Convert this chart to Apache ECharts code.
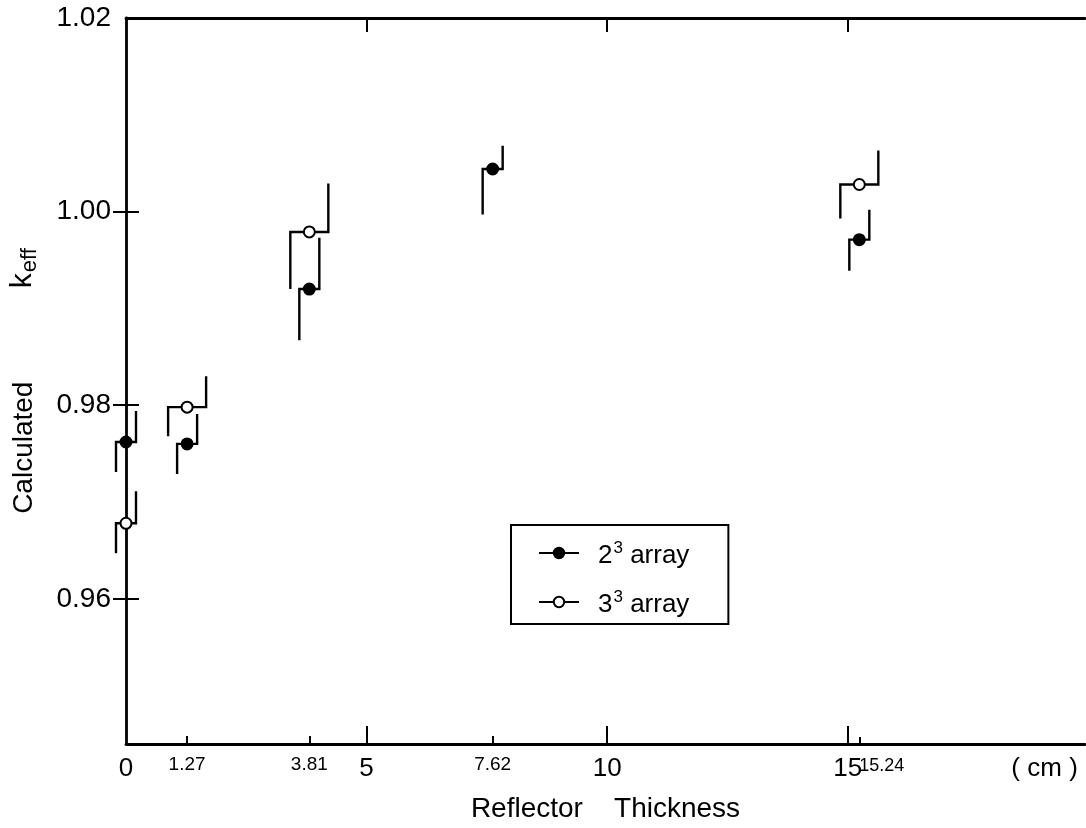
<!DOCTYPE html>
<html>
<head>
<meta charset="utf-8">
<script src="https://cdn.jsdelivr.net/npm/echarts@6/dist/echarts.min.js"></script>
<style>
html,body{margin:0;padding:0;background:#fff;}
#chart{width:1086px;height:828px;}
</style>
</head>
<body>
<div id="chart"></div>
<script>
// ---- data ----
const xMajorTicks = [0, 5, 10, 15];
const xMinorTicks = [1.27, 3.81, 7.62];
const xSpecialTick = [15.24];
const unitLabelValue = [19.09];
const yTicks = [0.96, 0.98, 1.00];
const yLabels = [0.96, 0.98, 1.00, 1.02];

// 2^3 array (filled circles)
const x2 = [0, 1.27, 3.81, 7.62, 15.24];
const k2 = [0.9762, 0.9760, 0.9920, 1.0044, 0.9971];
const k2Low = [0.9731, 0.9729, 0.9867, 0.9997, 0.9939];
const k2High = [0.9794, 0.9791, 0.9973, 1.0068, 1.0002];

// 3^3 array (open circles)
const x3 = [0, 1.27, 3.81, 15.24];
const k3 = [0.9678, 0.9798, 0.9979, 1.0028];
const k3Low = [0.9647, 0.9768, 0.9920, 0.9993];
const k3High = [0.9711, 0.9830, 1.0029, 1.0063];

const FONT = 'Liberation Sans';

function rows(xs, ys, lo, hi) {
  return xs.map((x, i) => [x, ys[i], lo[i], hi[i]]);
}

function makeRender(fill, arm, armAtZero) {
  return function (params, api) {
    const x = api.value(0);
    const p = api.coord([x, api.value(1)]);
    const pl = api.coord([x, api.value(2)]);
    const ph = api.coord([x, api.value(3)]);
    const a = x === 0 ? armAtZero : arm;
    return {
      type: 'group',
      children: [
        {
          type: 'polyline',
          shape: { points: [[p[0] - a, pl[1]], [p[0] - a, p[1]], [p[0] + a, p[1]], [p[0] + a, ph[1]]] },
          style: { stroke: '#000', lineWidth: 2.4, fill: null }
        },
        {
          type: 'circle',
          shape: { cx: p[0], cy: p[1], r: 5.5 },
          style: { fill: fill, stroke: '#000', lineWidth: 2 }
        }
      ]
    };
  };
}

const chart = echarts.init(document.getElementById('chart'), null, { renderer: 'canvas' });

const axisLine = { show: true, lineStyle: { color: '#000', width: 2.8 } };

const option = {
  backgroundColor: '#fff',
  animation: false,
  textStyle: { fontFamily: FONT, color: '#000' },
  grid: { left: 122, right: 1, top: 18, bottom: 83, containLabel: false },
  legend: {
    data: ['2^3 array', '3^3 array'],
    orient: 'vertical',
    left: 511,
    top: 525,
    padding: [15, 39, 6, 27],
    itemGap: 20,
    itemWidth: 40,
    itemHeight: 13,
    borderColor: '#000',
    borderWidth: 2,
    borderRadius: 0,
    backgroundColor: '#fff',
    selectedMode: false,
    formatter: function (name) {
      const d = name.charAt(0);
      return '{n|' + d + '}{s|3}{t| array}';
    },
    textStyle: {
      fontFamily: FONT,
      color: '#000',
      fontSize: 26,
      rich: {
        n: { fontFamily: FONT, fontSize: 26, padding: [0, 0, 0, 14], lineHeight: 32, verticalAlign: 'bottom' },
        s: { fontFamily: FONT, fontSize: 17, padding: [0, 0, 12, 1], lineHeight: 32, verticalAlign: 'bottom' },
        t: { fontFamily: FONT, fontSize: 26, lineHeight: 32, verticalAlign: 'bottom' }
      }
    }
  },
  xAxis: [
    {
      type: 'value', position: 'bottom', min: 0, max: 19.93,
      axisLine: axisLine,
      splitLine: { show: false },
      axisTick: { show: true, inside: true, length: 18, customValues: xMajorTicks.slice(1), lineStyle: { color: '#000', width: 2 } },
      axisLabel: {
        customValues: xMajorTicks.concat(unitLabelValue),
        fontFamily: FONT, fontSize: 26, color: '#000', margin: 12,
        formatter: function (v) { return v > 19 ? '( cm )' : String(v); }
      },
      name: 'Reflector    Thickness',
      nameLocation: 'middle',
      nameGap: 51,
      nameTextStyle: { fontFamily: FONT, fontSize: 28, color: '#000' }
    },
    {
      type: 'value', position: 'bottom', min: 0, max: 19.93,
      axisLine: { show: false },
      splitLine: { show: false },
      axisTick: { show: true, inside: true, length: 8, customValues: xMinorTicks, lineStyle: { color: '#000', width: 2 } },
      axisLabel: {
        customValues: xMinorTicks,
        fontFamily: FONT, fontSize: 19, color: '#000', margin: 11,
        formatter: function (v) { return v.toFixed(2); }
      }
    },
    {
      type: 'value', position: 'bottom', min: 0, max: 19.93,
      axisLine: { show: false },
      splitLine: { show: false },
      axisTick: { show: true, inside: true, length: 7, customValues: xSpecialTick, lineStyle: { color: '#000', width: 2 } },
      axisLabel: {
        customValues: xSpecialTick,
        fontFamily: FONT, fontSize: 18, color: '#000', margin: 13, align: 'left',
        formatter: function (v) { return v.toFixed(2); }
      }
    },
    {
      type: 'value', position: 'top', min: 0, max: 19.93,
      axisLine: axisLine,
      splitLine: { show: false },
      axisTick: { show: true, inside: true, length: 14, customValues: xMajorTicks.slice(1), lineStyle: { color: '#000', width: 2 } },
      axisLabel: { show: false }
    }
  ],
  yAxis: [
    {
      type: 'value', position: 'left', min: 0.945, max: 1.02,
      axisLine: axisLine,
      splitLine: { show: false },
      axisTick: { show: true, inside: true, length: 13, customValues: yTicks, lineStyle: { color: '#000', width: 2 } },
      axisLabel: {
        customValues: yLabels,
        fontFamily: FONT, fontSize: 28, color: '#000', margin: 15,
        formatter: function (v) { return v.toFixed(2); }
      },
      name: '{c|Calculated}{sp|            }{k|k}{e|eff}',
      nameLocation: 'middle',
      nameRotate: 90,
      nameGap: 88,
      nameTextStyle: {
        fontFamily: FONT, fontSize: 28, color: '#000',
        rich: {
          c: { fontFamily: FONT, fontSize: 28, lineHeight: 34, verticalAlign: 'bottom' },
          sp: { fontFamily: FONT, fontSize: 28, lineHeight: 34, verticalAlign: 'bottom' },
          k: { fontFamily: FONT, fontSize: 30, lineHeight: 34, verticalAlign: 'bottom' },
          e: { fontFamily: FONT, fontSize: 22, lineHeight: 34, verticalAlign: 'bottom', padding: [0, 0, -3, 1] }
        }
      }
    },
    {
      type: 'value', position: 'right', min: 0.945, max: 1.02,
      axisLine: { show: false },
      splitLine: { show: false },
      axisTick: { show: true, inside: true, length: 13, customValues: yTicks, lineStyle: { color: '#000', width: 2 } },
      axisLabel: { show: false }
    }
  ],
  series: [
    {
      name: '2^3 bars', type: 'custom', xAxisIndex: 0, yAxisIndex: 0,
      renderItem: makeRender('#000', 10, 10),
      data: rows(x2, k2, k2Low, k2High),
      encode: { x: 0, y: [1, 2, 3] },
      clip: false, z: 5
    },
    {
      name: '3^3 bars', type: 'custom', xAxisIndex: 0, yAxisIndex: 0,
      renderItem: makeRender('#fff', 19, 10),
      data: rows(x3, k3, k3Low, k3High),
      encode: { x: 0, y: [1, 2, 3] },
      clip: false, z: 5
    },
    {
      name: '2^3 array', type: 'line', data: [],
      symbol: 'circle',
      itemStyle: { color: '#000', borderColor: '#000', borderWidth: 1 },
      lineStyle: { color: '#000', width: 2 }
    },
    {
      name: '3^3 array', type: 'line', data: [],
      symbol: 'circle',
      itemStyle: { color: '#fff', borderColor: '#000', borderWidth: 2 },
      lineStyle: { color: '#000', width: 2 }
    }
  ]
};

chart.setOption(option);
</script>
</body>
</html>
